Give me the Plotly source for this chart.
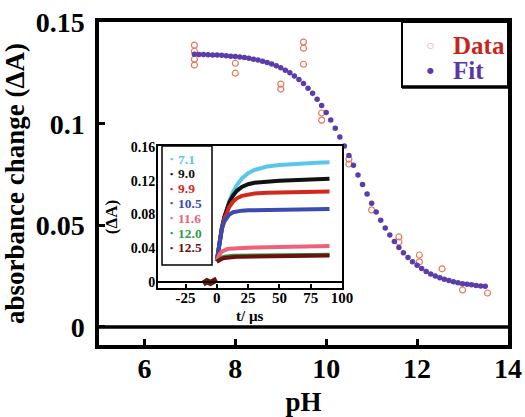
import plotly.graph_objects as go

# ---------------- main data ----------------
ph_data = [7.1, 7.1, 7.1, 7.1, 8.0, 8.0, 9.0, 9.0, 9.5, 9.5, 9.5, 9.9, 9.9,
           10.5, 10.5, 11.0, 11.6, 11.6, 12.05, 12.05, 12.55, 13.0, 13.55]
abs_data = [0.1387, 0.1357, 0.1318, 0.1289, 0.1298, 0.1249, 0.1195, 0.1171,
            0.1402, 0.1372, 0.1293, 0.1053, 0.1018, 0.0826, 0.0802, 0.0576,
            0.0443, 0.0418, 0.0354, 0.0320, 0.0286, 0.0182, 0.0167]

ph_fit = [7.1, 7.2, 7.3, 7.4, 7.5, 7.6, 7.7, 7.8, 7.9, 8.0,
          8.1, 8.2, 8.3, 8.4, 8.5, 8.6, 8.7, 8.8, 8.9, 9.0,
          9.1, 9.2, 9.3, 9.4, 9.5, 9.6, 9.7, 9.8, 9.9, 10.0,
          10.1, 10.2, 10.3, 10.4, 10.5, 10.6, 10.7, 10.8, 10.9, 11.0,
          11.1, 11.2, 11.3, 11.4, 11.5, 11.6, 11.7, 11.8, 11.9, 12.0,
          12.1, 12.2, 12.3, 12.4, 12.5, 12.6, 12.7, 12.8, 12.9, 13.0,
          13.1, 13.2, 13.3, 13.4, 13.5]
abs_fit = [0.1342, 0.1341, 0.1341, 0.1340, 0.1339, 0.1338, 0.1337, 0.1335, 0.1333, 0.1331,
           0.1329, 0.1326, 0.1322, 0.1318, 0.1314, 0.1308, 0.1302, 0.1294, 0.1286, 0.1276,
           0.1264, 0.1251, 0.1235, 0.1218, 0.1198, 0.1175, 0.1150, 0.1121, 0.1090, 0.1055,
           0.1018, 0.0978, 0.0935, 0.0890, 0.0844, 0.0796, 0.0748, 0.0701, 0.0654, 0.0609,
           0.0566, 0.0525, 0.0487, 0.0452, 0.0420, 0.0391, 0.0365, 0.0342, 0.0321, 0.0303,
           0.0287, 0.0273, 0.0261, 0.0251, 0.0242, 0.0235, 0.0228, 0.0222, 0.0218, 0.0213,
           0.0210, 0.0207, 0.0204, 0.0202, 0.0200]

legend_labels = ["Data", "Fit"]

# ---------------- inset data ----------------
t_us = [0, 2, 4, 6, 8, 10, 13, 16, 20, 25, 30, 40, 50, 60, 70, 80, 90]
kin_71 = [0.025, 0.0453, 0.0620, 0.0755, 0.0867, 0.0961, 0.1069, 0.1150, 0.1227,
          0.1290, 0.1328, 0.1369, 0.1387, 0.1400, 0.1405, 0.1412, 0.1420]
kin_90 = [0.025, 0.0477, 0.0646, 0.0774, 0.0871, 0.0945, 0.1026, 0.1081, 0.1127,
          0.1159, 0.1177, 0.1192, 0.1200, 0.1205, 0.1212, 0.1218, 0.1225]
kin_99 = [0.025, 0.0474, 0.0635, 0.0749, 0.0831, 0.0892, 0.0954, 0.0992, 0.1021,
          0.1040, 0.1048, 0.1057, 0.1062, 0.1066, 0.1068, 0.1070, 0.1072]
kin_105 = [0.025, 0.0486, 0.0629, 0.0716, 0.0769, 0.0801, 0.0827, 0.0839, 0.0846,
           0.0850, 0.0852, 0.0855, 0.0857, 0.0859, 0.0861, 0.0863, 0.0865]
kin_116 = [0.025, 0.0323, 0.0360, 0.0380, 0.0390, 0.0395, 0.0399, 0.0402, 0.0404,
           0.0406, 0.0408, 0.0411, 0.0414, 0.0417, 0.0420, 0.0423, 0.0426]
kin_120 = [0.024, 0.0270, 0.0290, 0.0300, 0.0305, 0.0310, 0.0310, 0.0312, 0.0313,
           0.0314, 0.0315, 0.0316, 0.0318, 0.0319, 0.0320, 0.0321, 0.0322]
kin_125 = [0.024, 0.0260, 0.0275, 0.0285, 0.0290, 0.0293, 0.0296, 0.0298, 0.0300,
           0.0301, 0.0302, 0.0304, 0.0306, 0.0308, 0.0310, 0.0312, 0.0314]
pre_t = [-11, -8, -5, -2, 0]
pre_v = [-0.002, 0.001, -0.001, 0.002, 0.003]

kin_labels = ["7.1", "9.0", "9.9", "10.5", "11.6", "12.0", "12.5"]
kin_series = [kin_71, kin_90, kin_99, kin_105, kin_116, kin_120, kin_125]
kin_colors = ["#5CC6EA", "#111111", "#D2281E", "#3A4CB0", "#F0607C", "#2E9E48", "#6E1010"]

inset_xticks = [-25, 0, 25, 50, 75, 100]
inset_xticktext = ["-25", "0", "25", "50", "75", "100"]

FONT = "Liberation Serif"
W, H = 525, 417
ML, MR, MT, MB = 99, 17, 22, 72
PW, PH = W - ML - MR, H - MT - MB

DATA_COL, DATA_TXT = "#E27A5C", "#C4281C"
FIT_COL, FIT_TXT = "#5A3CAA", "#5A36A8"


def px_x(x):
    return (x - ML) / PW


def px_y(y):
    return (H - MB - y) / PH


fig = go.Figure()

fig.add_trace(go.Scatter(
    x=ph_data, y=abs_data, mode="markers", name="Data", showlegend=False,
    marker=dict(symbol="circle-open", size=6, color=DATA_COL, line=dict(width=1.2, color=DATA_COL)),
))
fig.add_trace(go.Scatter(
    x=ph_fit, y=abs_fit, mode="markers", name="Fit", showlegend=False,
    marker=dict(symbol="circle", size=5.5, color=FIT_COL),
))

for lab, ser, col in zip(kin_labels, kin_series, kin_colors):
    fig.add_trace(go.Scatter(
        x=t_us, y=ser, mode="lines", xaxis="x2", yaxis="y2", showlegend=False,
        line=dict(color=col, width=4), name=lab,
    ))
fig.add_trace(go.Scatter(
    x=pre_t, y=pre_v, mode="lines", xaxis="x2", yaxis="y2", showlegend=False,
    line=dict(color="#6E1010", width=6),
))

# inset domain in pixels
ix0, ix1, iy0, iy1 = 158, 342, 146, 288

fig.update_layout(
    width=W, height=H,
    margin=dict(l=ML, r=MR, t=MT, b=MB, pad=0),
    paper_bgcolor="white", plot_bgcolor="white",
    font=dict(family=FONT, color="black", size=20, weight="bold"),
    showlegend=False,
    xaxis=dict(range=[5, 14.001], tickvals=[6, 8, 10, 12, 14], ticks="inside",
               ticklen=6, tickwidth=3, tickcolor="black",
               showline=True, linewidth=3.5, linecolor="black", mirror=True,
               showgrid=False, zeroline=False, automargin=False,
               tickfont=dict(family=FONT, size=28, weight="bold"),
               ticklabelstandoff=-4,
               title=dict(text="pH", font=dict(family=FONT, size=27, weight="bold"), standoff=14)),
    yaxis=dict(range=[-0.0089, 0.1501], tickvals=[0, 0.05, 0.1, 0.15], ticks="inside",
               ticklen=6, tickwidth=3, tickcolor="black",
               showline=True, linewidth=3.5, linecolor="black", mirror=True,
               showgrid=False, zeroline=False, automargin=False,
               tickfont=dict(family=FONT, size=28, weight="bold"),
               ticklabelstandoff=5,
               title=dict(text="absorbance change (ΔA)", font=dict(family=FONT, size=27, weight="bold"), standoff=8)),
    xaxis2=dict(domain=[px_x(ix0), px_x(ix1)], anchor="y2", range=[-47, 100],
                tickvals=inset_xticks, ticktext=inset_xticktext, ticks="inside",
                ticklen=4, tickwidth=2, tickcolor="black",
                showline=True, linewidth=2, linecolor="black", mirror=True,
                showgrid=False, zeroline=False, automargin=False,
                tickfont=dict(family=FONT, size=15, weight="bold"),
                ticklabelstandoff=-5),
    yaxis2=dict(domain=[px_y(iy1), px_y(iy0)], anchor="x2", range=[-0.0071, 0.1612],
                tickvals=[0, 0.04, 0.08, 0.12, 0.16], ticks="",
                showline=True, linewidth=2, linecolor="black", mirror=True,
                showgrid=False, zeroline=False, automargin=False,
                tickfont=dict(family=FONT, size=14, weight="bold"),
                ticklabelstandoff=-2,
                title=dict(text="(ΔA)", font=dict(family=FONT, size=17, weight="bold"), standoff=9)),
)

# inset x-axis title as annotation (sits close to tick labels)
fig.add_annotation(x=0.5, y=px_y(316), xref="x2 domain", yref="paper", text="t/ µs",
                   showarrow=False, xanchor="center", yanchor="middle", borderpad=0,
                   font=dict(family=FONT, size=15, weight="bold"))

# thick zero lines
fig.add_shape(type="line", xref="x domain", yref="y", x0=0, x1=1, y0=0, y1=0,
              line=dict(color="black", width=3.5))
fig.add_shape(type="line", xref="x2 domain", yref="y2", x0=0, x1=1, y0=0, y1=0,
              line=dict(color="black", width=2))

# main legend (box + symbol glyphs + coloured labels)
fig.add_shape(type="rect", xref="paper", yref="paper",
              x0=px_x(402), x1=1, y0=px_y(87), y1=1,
              line=dict(color="black", width=2), fillcolor="white", layer="above")
fig.add_shape(type="line", xref="paper", yref="paper",
              x0=px_x(402), x1=1, y0=px_y(87), y1=px_y(87),
              line=dict(color="black", width=3.5), layer="above")
for lab, glyph, gcol, tcol, ypx in zip(legend_labels, ["○", "●"], [DATA_COL, FIT_COL],
                                       [DATA_TXT, FIT_TXT], [45, 70]):
    fig.add_annotation(x=px_x(430), y=px_y(ypx), xref="paper", yref="paper", text=glyph,
                       showarrow=False, xanchor="center", yanchor="middle", borderpad=0,
                       font=dict(family="DejaVu Sans", size=8, color=gcol))
    fig.add_annotation(x=px_x(452), y=px_y(ypx), xref="paper", yref="paper", text=lab,
                       showarrow=False, xanchor="left", yanchor="middle", borderpad=0,
                       font=dict(family=FONT, size=25, color=tcol, weight="bold"))

# inset legend box and entries
lx0, lx1, ly0, ly1 = 162, 212, 146, 265
fig.add_shape(type="rect", xref="paper", yref="paper",
              x0=px_x(lx0), x1=px_x(lx1), y0=px_y(ly1), y1=px_y(ly0),
              line=dict(color="black", width=1.5), fillcolor="white", layer="above")
leg_top, leg_step = 159, 14.8
for i, (lab, col) in enumerate(zip(kin_labels, kin_colors)):
    yy = px_y(leg_top + i * leg_step)
    fig.add_annotation(x=px_x(171), y=yy, xref="paper", yref="paper", text="•",
                       showarrow=False, xanchor="center", yanchor="middle", borderpad=0,
                       font=dict(family=FONT, size=9, color=col))
    fig.add_annotation(x=px_x(177), y=yy, xref="paper", yref="paper", text=lab,
                       showarrow=False, xanchor="left", yanchor="middle", borderpad=0,
                       font=dict(family=FONT, size=13.5, color=col, weight="bold"))

fig.write_html("out.html", config={"displayModeBar": False},
               post_script="document.body.style.margin='0';document.body.style.overflow='hidden';")
